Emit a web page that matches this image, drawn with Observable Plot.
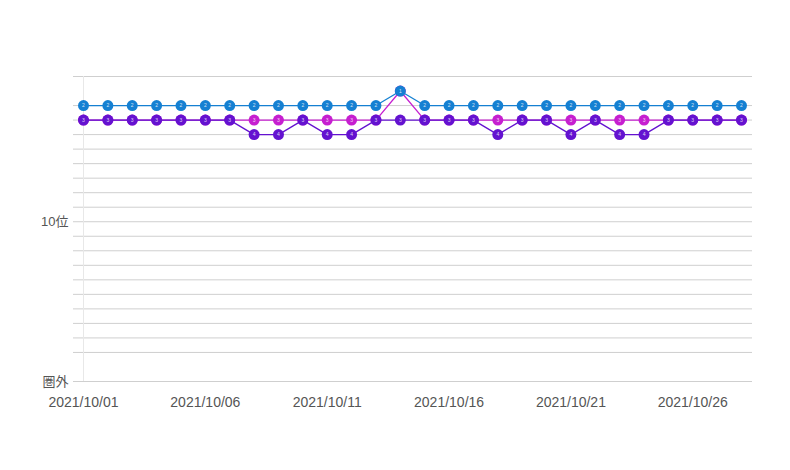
<!DOCTYPE html>
<html>
<head>
<meta charset="utf-8">
<script src="https://cdn.jsdelivr.net/npm/d3@7"></script>
<script src="https://cdn.jsdelivr.net/npm/@observablehq/plot@0.6"></script>
<style>
  html, body { margin: 0; padding: 0; background: #fff; }
  #chart svg { display: block; }
</style>
</head>
<body>
<div id="chart"></div>
<script>
const dates = [
  "2021-10-01","2021-10-02","2021-10-03","2021-10-04","2021-10-05","2021-10-06","2021-10-07",
  "2021-10-08","2021-10-09","2021-10-10","2021-10-11","2021-10-12","2021-10-13","2021-10-14",
  "2021-10-15","2021-10-16","2021-10-17","2021-10-18","2021-10-19","2021-10-20","2021-10-21",
  "2021-10-22","2021-10-23","2021-10-24","2021-10-25","2021-10-26","2021-10-27","2021-10-28"
];
const blueRanks    = [2,2,2,2,2,2,2, 2,2,2,2,2,2,1, 2,2,2,2,2,2,2, 2,2,2,2,2,2,2];
const magentaRanks = [3,3,3,3,3,3,3, 3,3,3,3,3,3,1, 3,3,3,3,3,3,3, 3,3,3,3,3,3,3];
const purpleRanks  = [3,3,3,3,3,3,3, 4,4,3,4,4,3,3, 3,3,3,4,3,3,4, 3,4,4,3,3,3,3];
const seriesNames  = ["magenta","purple","blue"];
const seriesColors = ["#c61fd0","#6412d0","#1580d2"];
const xTicks = ["2021-10-01","2021-10-06","2021-10-11","2021-10-16","2021-10-21","2021-10-26"];
const yTickValues = [10, 21];
const yTickLabels = ["10位", "圏外"];
const gridRanks = [0,2,3,4,5,6,7,8,9,10,11,12,13,14,15,16,17,18,19,21];

const parse = d3.utcParse("%Y-%m-%d");
const rankArrays = [magentaRanks, purpleRanks, blueRanks];
const table = [];
seriesNames.forEach((name, si) => {
  dates.forEach((d, i) => table.push({series: name, date: parse(d), rank: rankArrays[si][i]}));
});

const marks = [
  Plot.ruleY(gridRanks, {stroke: "#cfcfcf", strokeWidth: 1}),
  Plot.ruleX([parse(dates[0])], {stroke: "#e8e8e8", strokeWidth: 1}),
  Plot.axisX(xTicks.map(parse), {tickSize: 0, tickPadding: 16, tickFormat: d3.utcFormat("%Y/%m/%d"), fontSize: 14, fill: "#555", label: null}),
  Plot.axisY(yTickValues, {tickSize: 0, tickPadding: 5, tickFormat: v => yTickLabels[yTickValues.indexOf(v)], fontSize: 13, fill: "#555", label: null})
];
seriesNames.forEach((name, si) => {
  const rows = table.filter(r => r.series === name);
  marks.push(Plot.line(rows, {x: "date", y: "rank", stroke: seriesColors[si], strokeWidth: 1.3}));
  marks.push(Plot.dot(rows, {x: "date", y: "rank", r: 5.5, fill: seriesColors[si], stroke: "none"}));
  marks.push(Plot.text(rows, {x: "date", y: "rank", text: "rank", fill: "white", fillOpacity: 0.8, fontSize: 5}));
});

const chart = Plot.plot({
  width: 790,
  height: 470,
  marginLeft: 73,
  marginRight: 38,
  marginTop: 76,
  marginBottom: 89,
  style: {fontFamily: "'Liberation Sans', 'Noto Sans CJK JP', sans-serif", background: "#fff", color: "#555"},
  x: {type: "utc", domain: [parse(dates[0]), parse(dates[dates.length - 1])], insetLeft: 10, insetRight: 11},
  y: {domain: [0, 21], reverse: true},
  marks
});
document.getElementById("chart").appendChild(chart);
</script>
</body>
</html>
